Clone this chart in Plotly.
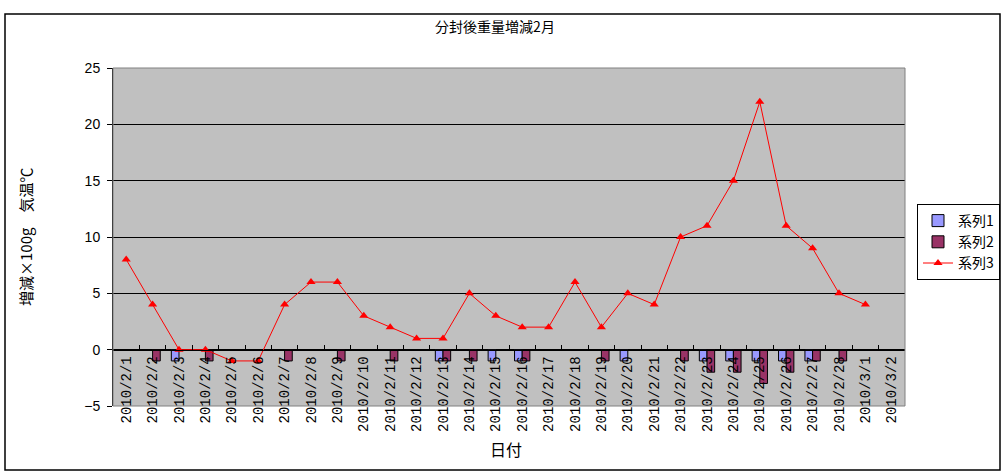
import plotly.graph_objects as go

categories = ["2010/2/1", "2010/2/2", "2010/2/3", "2010/2/4", "2010/2/5", "2010/2/6",
              "2010/2/7", "2010/2/8", "2010/2/9", "2010/2/10", "2010/2/11", "2010/2/12",
              "2010/2/13", "2010/2/14", "2010/2/15", "2010/2/16", "2010/2/17", "2010/2/18",
              "2010/2/19", "2010/2/20", "2010/2/21", "2010/2/22", "2010/2/23", "2010/2/24",
              "2010/2/25", "2010/2/26", "2010/2/27", "2010/2/28", "2010/3/1", "2010/3/2"]

series1 = [None, None, -1, None, None, None, None, None, None, None, None, None,
           -1, None, -1, -1, None, None, None, -1, None, None, -1, -1,
           -1, -1, -1, None, None, None]

series2 = [None, -1, None, -1, None, None, -1, None, -1, None, -1, None,
           -1, -1, None, -1, None, None, -1, None, None, -1, -2, -2,
           -3, -2, -1, -1, None, None]

series3 = [8, 4, 0, 0, -1, -1, 4, 6, 6, 3, 2, 1,
           1, 5, 3, 2, 2, 6, 2, 5, 4, 10, 11, 15,
           22, 11, 9, 5, 4, None]

y_ticks = [-5, 0, 5, 10, 15, 20, 25]

title_text = "分封後重量増減2月"
y_title = "増減×100g　気温℃"
x_title = "日付"
names = ["系列1", "系列2", "系列3"]

W, H = 1006, 475
L, R, T, B = 113, 905, 68, 406
pw, ph = R - L, B - T

def px_x(p):
    return (p - L) / pw

def px_y(p):
    return (B - p) / ph

cjk = "Noto Sans CJK JP"

fig = go.Figure()
fig.add_trace(go.Bar(x=categories, y=series1, name=names[0],
                     marker=dict(color="#9999FF", line=dict(color="black", width=1))))
fig.add_trace(go.Bar(x=categories, y=series2, name=names[1],
                     marker=dict(color="#993366", line=dict(color="black", width=1))))
fig.add_trace(go.Scatter(x=categories, y=series3, name=names[2], mode="lines+markers",
                         line=dict(color="#FF0000", width=1),
                         marker=dict(symbol="triangle-up", size=8, color="#FF0000")))

ymin, ymax = y_ticks[0], y_ticks[-1]
zero_pos = (0 - ymin) / (ymax - ymin)

fig.update_layout(
    width=W, height=H,
    margin=dict(l=L, r=W - R, t=T, b=H - B, autoexpand=False),
    paper_bgcolor="white",
    plot_bgcolor="#C0C0C0",
    barmode="group",
    bargap=0.42,
    bargroupgap=0,
    showlegend=True,
    title=dict(text=title_text, x=495 / W, xanchor="center", y=1 - 27 / H, yanchor="middle",
               font=dict(family=cjk, size=14, color="black")),
    legend=dict(x=px_x(917), y=px_y(204), xanchor="left", yanchor="top",
                bordercolor="black", borderwidth=1, bgcolor="white",
                font=dict(family=cjk, size=14, color="black"),
                itemwidth=30, tracegroupgap=0),
    xaxis=dict(type="category", categoryorder="array", categoryarray=categories,
               anchor="free", position=zero_pos,
               showline=True, linecolor="black", linewidth=1,
               ticks="inside", ticklen=5, tickcolor="black", tickson="boundaries",
               tickangle=-90, showgrid=False, zeroline=False,
               tickfont=dict(family="Liberation Mono", size=14, color="black"),
               automargin=False, range=[-0.5, len(categories) - 0.5]),
    yaxis=dict(range=[ymin, ymax], tickvals=y_ticks, showgrid=True, gridcolor="black", gridwidth=1,
               zeroline=False, showline=True, linecolor="black", linewidth=1,
               ticks="outside", ticklen=5, tickcolor="black", ticklabelstandoff=4,
               tickfont=dict(family="Liberation Sans", size=14, color="black"),
               automargin=False),
    annotations=[
        dict(text=y_title, x=px_x(25), y=px_y(237), xref="paper", yref="paper",
             textangle=-90, showarrow=False, xanchor="center", yanchor="middle",
             font=dict(family=cjk, size=15, color="black")),
        dict(text=x_title, x=px_x(506), y=px_y(449), xref="paper", yref="paper",
             showarrow=False, xanchor="center", yanchor="middle",
             font=dict(family=cjk, size=16, color="black")),
    ],
    shapes=[
        dict(type="rect", xref="paper", yref="paper", x0=0, x1=1, y0=0, y1=1,
             line=dict(color="#808080", width=1), layer="above"),
        dict(type="rect", xref="paper", yref="paper", x0=px_x(5), x1=px_x(1000),
             y0=px_y(470), y1=px_y(14), line=dict(color="black", width=1.5)),
    ],
)

fig.write_html("out.html", config={"displayModeBar": False},
               post_script="document.body.style.margin='0';document.body.style.overflow='hidden';")
